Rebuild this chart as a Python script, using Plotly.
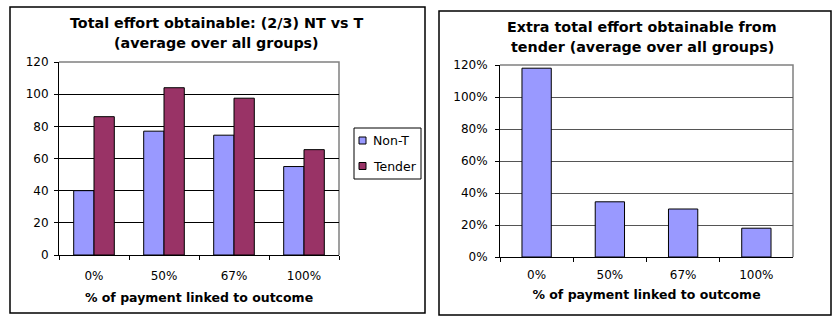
import plotly.graph_objects as go

W, H = 834, 316

categories = ["0%", "50%", "67%", "100%"]
non_t = [40, 77, 74.5, 55]
tender = [86, 104, 97.5, 65.5]
extra = [1.18, 0.345, 0.30, 0.18]

left_title = ["Total effort obtainable: (2/3) NT vs T", "(average over all groups)"]
right_title = ["Extra total effort obtainable from", "tender (average over all groups)"]
x_title = "% of payment linked to outcome"
legend_names = ["Non-T", "Tender"]

C_NONT = "#9999FF"
C_TENDER = "#993366"
FONT = "DejaVu Sans"


def px(x):
    return x / W


def py(y):
    return 1 - y / H


L = dict(x0=59, x1=339, y0=62, y1=255)
R = dict(x0=500, x1=793, y0=65, y1=257)

fig = go.Figure()
fig.add_trace(go.Bar(x=categories, y=non_t, name=legend_names[0], marker=dict(color=C_NONT, line=dict(color="black", width=1)),
                     width=0.29, offset=-0.29, xaxis="x", yaxis="y", showlegend=False))
fig.add_trace(go.Bar(x=categories, y=tender, name=legend_names[1], marker=dict(color=C_TENDER, line=dict(color="black", width=1)),
                     width=0.29, offset=0.0, xaxis="x", yaxis="y", showlegend=False))
fig.add_trace(go.Bar(x=categories, y=extra, name="Extra", marker=dict(color=C_NONT, line=dict(color="black", width=1)),
                     width=0.4, offset=-0.2, xaxis="x2", yaxis="y2", showlegend=False))

axis_common = dict(showline=True, linecolor="black", linewidth=1, ticks="outside", ticklen=4, automargin=False,
                   tickcolor="black", tickfont=dict(family=FONT, size=12, color="black"))

fig.update_layout(
    template="none",
    width=W, height=H,
    margin=dict(l=0, r=0, t=0, b=0, pad=0, autoexpand=False),
    paper_bgcolor="white", plot_bgcolor="white",
    font=dict(family=FONT, color="black"),
    barmode="group",
    showlegend=False,
    xaxis=dict(domain=[px(L["x0"]), px(L["x1"])], anchor="y", type="category", tickson="boundaries",
               showgrid=False, ticklabelstandoff=10,
               title=dict(text="<b>" + x_title + "</b>", font=dict(family=FONT, size=12.5), standoff=10),
               **axis_common),
    yaxis=dict(domain=[py(L["y1"]), py(L["y0"])], anchor="x", range=[0, 120], dtick=20,
               showgrid=True, gridcolor="black", gridwidth=1, zeroline=False, ticklabelstandoff=3,
               **axis_common),
    xaxis2=dict(domain=[px(R["x0"]), px(R["x1"])], anchor="y2", type="category", tickson="boundaries",
                showgrid=False, ticklabelstandoff=7,
                title=dict(text="<b>" + x_title + "</b>", font=dict(family=FONT, size=12.5), standoff=8),
                **axis_common),
    yaxis2=dict(domain=[py(R["y1"]), py(R["y0"])], anchor="x2", range=[0, 1.2], dtick=0.2, tickformat=".0%",
                showgrid=True, gridcolor="#555555", gridwidth=1.2, zeroline=False, ticklabelstandoff=5,
                **axis_common),
)

shapes = []
# outer chart boxes
shapes.append(dict(type="rect", xref="paper", yref="paper", x0=px(10), x1=px(425), y0=py(313), y1=py(7),
                   line=dict(color="black", width=1.5), fillcolor="rgba(0,0,0,0)", layer="above"))
shapes.append(dict(type="rect", xref="paper", yref="paper", x0=px(439), x1=px(831), y0=py(315), y1=py(11),
                   line=dict(color="black", width=1.5), fillcolor="rgba(0,0,0,0)", layer="above"))
# plot-area gray frames (top and right)
for b in (L, R):
    shapes.append(dict(type="path", xref="paper", yref="paper",
                       path=f"M {px(b['x0'])},{py(b['y0'])} L {px(b['x1'])},{py(b['y0'])} L {px(b['x1'])},{py(b['y1'])}",
                       line=dict(color="#808080", width=1.5), layer="below"))
# legend box for left chart
shapes.append(dict(type="rect", xref="paper", yref="paper", x0=px(354), x1=px(421), y0=py(179), y1=py(128),
                   line=dict(color="black", width=1), fillcolor="white", layer="above"))
for yc, col in ((140.5, C_NONT), (166, C_TENDER)):
    shapes.append(dict(type="rect", xref="paper", yref="paper", x0=px(359), x1=px(366), y0=py(yc + 3.5), y1=py(yc - 3.5),
                       line=dict(color="black", width=1), fillcolor=col, layer="above"))

annotations = []
for name, yc in zip(legend_names, (140.5, 166)):
    annotations.append(dict(text=name, xref="paper", yref="paper", x=px(371), y=py(yc), xanchor="left", yanchor="middle",
                            showarrow=False, font=dict(family=FONT, size=12.5, color="black")))
for lines, xc, ys in ((left_title, 216, (23, 43)), (right_title, 642, (27, 47))):
    for t, yc in zip(lines, ys):
        annotations.append(dict(text="<b>" + t + "</b>", xref="paper", yref="paper", x=px(xc), y=py(yc),
                                xanchor="center", yanchor="middle", showarrow=False,
                                font=dict(family=FONT, size=14.3, color="black")))

fig.update_layout(shapes=shapes, annotations=annotations)

fig.write_html("out.html", post_script="document.body.style.margin='0';", config={"displayModeBar": False})
